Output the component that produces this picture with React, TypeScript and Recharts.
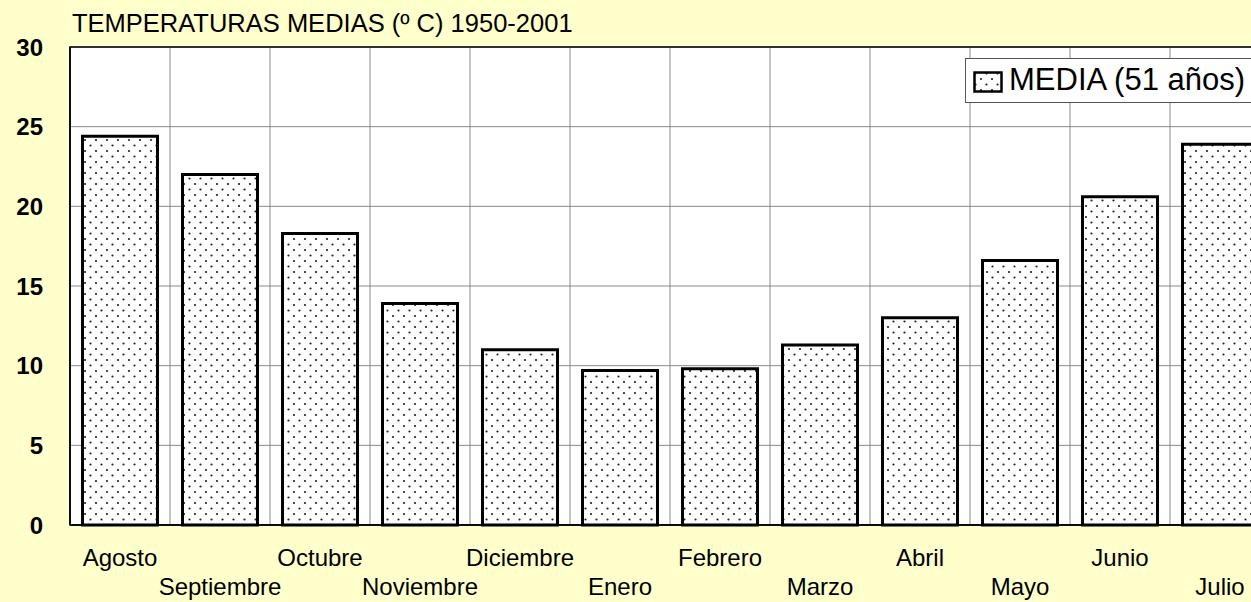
import React from 'react';
import { BarChart, Bar, XAxis, YAxis, CartesianGrid, ReferenceArea } from 'recharts';

const months = ['Agosto', 'Septiembre', 'Octubre', 'Noviembre', 'Diciembre', 'Enero', 'Febrero', 'Marzo', 'Abril', 'Mayo', 'Junio', 'Julio'];
const media = [24.4, 22.0, 18.3, 13.9, 11.0, 9.7, 9.8, 11.3, 13.0, 16.6, 20.6, 23.9];
const yTicks = [0, 5, 10, 15, 20, 25, 30];
const title = 'TEMPERATURAS MEDIAS (º C) 1950-2001';
const seriesName = 'MEDIA (51 años)';

const data = months.map((m, i) => ({ month: m, media: media[i] }));

const FONT = '"Liberation Sans", Arial, sans-serif';

const XTick = (props: any) => {
  const { x, y, payload } = props;
  const idx = props.index ?? payload?.index ?? 0;
  const row = idx % 2;
  return (
    <text x={x} y={y + (row ? 70 : 41)} textAnchor="middle" fontSize={24} fontFamily={FONT} fill="#000">
      {payload.value}
    </text>
  );
};

const DotPattern = ({ id }: { id: string }) => (
  <pattern id={id} patternUnits="userSpaceOnUse" width={11} height={11}>
    <rect width={11} height={11} fill="#fff" />
    <circle cx={2.5} cy={2.5} r={1.1} fill="#222" />
    <circle cx={8} cy={8} r={1.1} fill="#222" />
  </pattern>
);

const LegendBox = () => (
  <div
    style={{
      position: 'absolute',
      left: 965,
      top: 58,
      background: '#fff',
      border: '1px solid #555',
      height: 45,
      width: 320,
      boxSizing: 'border-box',
      fontFamily: FONT,
    }}
  >
    <svg width={32} height={24} style={{ position: 'absolute', left: 7, top: 12 }}>
      <defs>
        <DotPattern id="dotsLegend" />
      </defs>
      <rect x={1.5} y={1.5} width={27} height={19} fill="url(#dotsLegend)" stroke="#000" strokeWidth={2.5} />
    </svg>
    <span
      style={{
        position: 'absolute',
        left: 43,
        top: 4,
        fontSize: 31,
        lineHeight: '34px',
        color: '#000',
        whiteSpace: 'nowrap',
      }}
    >
      {seriesName}
    </span>
  </div>
);

export default function App() {
  return (
    <div
      style={{
        position: 'fixed',
        left: 0,
        top: 0,
        width: 1251,
        height: 602,
        overflow: 'hidden',
        background: '#FFFFCC',
        fontFamily: FONT,
      }}
    >
      <div
        style={{
          position: 'absolute',
          left: 72,
          top: 11,
          fontSize: 25.5,
          lineHeight: '25px',
          color: '#000',
          whiteSpace: 'nowrap',
        }}
      >
        {title}
      </div>
      <div style={{ position: 'absolute', left: 0, top: 0 }}>
        <BarChart
          width={1300}
          height={602}
          data={data}
          margin={{ top: 47, right: 30, bottom: 0, left: 0 }}
          barCategoryGap="12.5%"
        >
          <defs>
            <DotPattern id="dots" />
          </defs>
          <CartesianGrid
            stroke="#8a8a8a"
            strokeWidth={1}
            fill="#fff"
            fillOpacity={1}
            verticalCoordinatesGenerator={(p: any) => {
              const off = p?.offset ?? {};
              const left = off.left ?? 70;
              const w = off.width ?? 1200;
              const n = months.length;
              return Array.from({ length: n + 1 }, (_, i) => left + (i * w) / n);
            }}
          />
          <XAxis
            dataKey="month"
            height={77}
            interval={0}
            tickLine={false}
            tickSize={0}
            tickMargin={0}
            axisLine={{ stroke: '#000', strokeWidth: 1.5 }}
            tick={<XTick />}
          />
          <YAxis
            width={70}
            domain={[0, 30]}
            ticks={yTicks}
            interval={0}
            tickLine={false}
            tickSize={0}
            tickMargin={27}
            axisLine={{ stroke: '#000', strokeWidth: 1.5 }}
            tick={{ fontSize: 24, fontWeight: 'bold', fill: '#000', fontFamily: FONT }}
          />
          <ReferenceArea y1={0} y2={30} fill="none" stroke="#000" strokeWidth={1.5} ifOverflow="visible" />
          <Bar
            dataKey="media"
            name={seriesName}
            fill="url(#dots)"
            stroke="#000"
            strokeWidth={3}
            isAnimationActive={false}
          />
        </BarChart>
      </div>
      <LegendBox />
    </div>
  );
}
